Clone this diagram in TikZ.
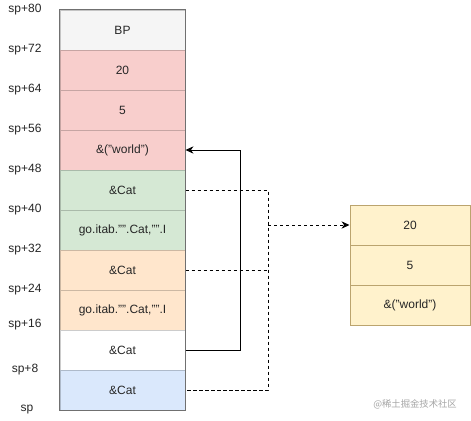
\documentclass[tikz,border=0pt]{standalone}
\usepackage{fontspec}
\setmainfont{Liberation Sans}
\newfontfamily\cjkfont{Noto Sans CJK SC}
\usetikzlibrary{positioning,arrows.meta}

\definecolor{bpgray}{HTML}{F5F5F5}
\definecolor{cellred}{HTML}{F8CECC}
\definecolor{cellgreen}{HTML}{D5E8D4}
\definecolor{cellorange}{HTML}{FFE6CC}
\definecolor{cellblue}{HTML}{DAE8FC}
\definecolor{cellyellow}{HTML}{FFF2CC}
\definecolor{edgegray}{HTML}{707070}
\definecolor{edgetan}{HTML}{BBA46E}

\tikzset{
    cell/.style={fill=#1, draw=#1!80!black, line width=0.75pt,
        minimum width=93.75pt, minimum height=30pt, inner sep=0pt, text=black!85},
    ycell/.style={fill=cellyellow, draw=edgetan, line width=0.75pt,
        minimum width=90pt, minimum height=30pt, inner sep=0pt, text=black!85},
    ptr/.style={line width=0.75pt, -{Stealth[length=6pt,width=5.5pt]}},
    dashline/.style={line width=0.75pt, dash pattern=on 2.5pt off 2pt}
}

\begin{document}
\begin{tikzpicture}[x=0.75pt,y=-0.75pt,font=\fontsize{9}{11}\selectfont]

        % Background
        \useasboundingbox[fill=white] (0,0) rectangle (471,421);

        % Stack offsets
        \foreach \off/\y in {80/10,72/50,64/90,56/130,48/170,40/210,32/250,24/290,16/325,8/370} {
            \node[text=black!85] (sp\off) at (25,\y) {sp+\off};
        }
        \node[text=black!85] (sp0) at (27,410) {sp};

        % Stack frame
        \node[cell=bpgray]     (c1)  at (122.5,30)  {BP};
        \node[cell=cellred]    (c2)  at (122.5,70)  {20};
        \node[cell=cellred]    (c3)  at (122.5,110) {5};
        \node[cell=cellred]    (c4)  at (122.5,150) {\&("world")};
        \node[cell=cellgreen]  (c5)  at (122.5,190) {\&Cat};
        \node[cell=cellgreen]  (c6)  at (122.5,230) {go.itab."".Cat,"".I};
        \node[cell=cellorange] (c7)  at (122.5,270) {\&Cat};
        \node[cell=cellorange] (c8)  at (122.5,310) {go.itab."".Cat,"".I};
        \node[cell=white]      (c9)  at (122.5,350) {\&Cat};
        \node[cell=cellblue]   (c10) at (122.5,390) {\&Cat};
        \draw[edgegray,line width=0.75pt] (c1.north west) rectangle (c10.south east);

        % Cat struct
        \node[ycell] (y1) at (410,225) {20};
        \node[ycell] (y2) at (410,265) {5};
        \node[ycell] (y3) at (410,305) {\&("world")};

        % Pointers
        \draw[ptr] (c9.east) -- ++(55,0) |- (c4.east);
        \coordinate (jn) at (268,225);
        \draw[dashline] (c5.east) -| (jn |- c10.east) -- (c10.east);
        \draw[dashline] (c7.east) -- (c7.east -| jn);
        \draw[dashline,ptr] (jn) -- (y1.west);

        % Watermark
        \node[text=black!35,font=\cjkfont\fontsize{7}{9}\selectfont] (mark) at (415,404) {@稀土掘金技术社区};

    \end{tikzpicture}
\end{document}
